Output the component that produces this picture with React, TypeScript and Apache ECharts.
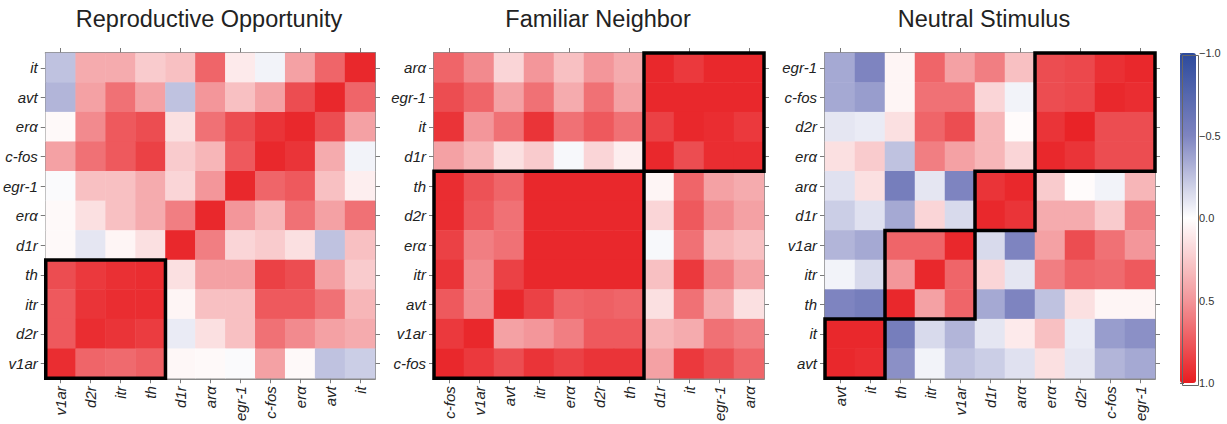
import React, { useEffect, useRef } from "react";
import * as echarts from "echarts";

// ---------- Data ----------
const titles = ["Reproductive Opportunity", "Familiar Neighbor", "Neutral Stimulus"];

const repCols = ["v1ar", "d2r", "itr", "th", "d1r", "arα", "egr-1", "c-fos", "erα", "avt", "it"];
const repRows = ["it", "avt", "erα", "c-fos", "egr-1", "erα", "d1r", "th", "itr", "d2r", "v1ar"];
const repValues = [
  [-0.25, 0.4, 0.4, 0.25, 0.3, 0.7, 0.1, -0.05, 0.45, 0.7, 0.95],
  [-0.3, 0.45, 0.65, 0.45, -0.25, 0.5, 0.3, 0.45, 0.8, 0.95, 0.7],
  [0.03, 0.55, 0.75, 0.8, 0.15, 0.65, 0.8, 0.9, 0.95, 0.8, 0.45],
  [0.45, 0.65, 0.75, 0.85, 0.25, 0.35, 0.75, 0.95, 0.9, 0.4, -0.05],
  [-0.02, 0.3, 0.3, 0.4, 0.2, 0.5, 0.95, 0.7, 0.75, 0.3, 0.08],
  [0.03, 0.15, 0.3, 0.4, 0.6, 0.95, 0.5, 0.35, 0.65, 0.45, 0.65],
  [0.03, -0.1, 0.05, 0.15, 0.95, 0.6, 0.2, 0.25, 0.15, -0.25, 0.3],
  [0.8, 0.88, 0.92, 0.93, 0.15, 0.45, 0.45, 0.85, 0.8, 0.45, 0.25],
  [0.75, 0.9, 0.93, 0.93, 0.05, 0.3, 0.3, 0.75, 0.75, 0.65, 0.35],
  [0.75, 0.93, 0.9, 0.87, -0.08, 0.15, 0.3, 0.65, 0.55, 0.45, 0.4],
  [0.93, 0.7, 0.68, 0.72, 0.04, 0.03, -0.02, 0.45, 0.03, -0.25, -0.2],
];
const repBoxes = [[0, 7, 3, 10]];

const famCols = ["c-fos", "v1ar", "avt", "itr", "erα", "d2r", "th", "d1r", "it", "egr-1", "arα"];
const famRows = ["arα", "egr-1", "it", "d1r", "th", "d2r", "erα", "itr", "avt", "v1ar", "c-fos"];
const famValues = [
  [0.7, 0.55, 0.2, 0.5, 0.3, 0.5, 0.4, 0.95, 0.88, 0.95, 0.95],
  [0.8, 0.7, 0.45, 0.65, 0.4, 0.65, 0.45, 0.95, 0.95, 0.95, 0.95],
  [0.9, 0.5, 0.65, 0.9, 0.65, 0.75, 0.65, 0.85, 0.95, 0.93, 0.88],
  [0.45, 0.35, 0.15, 0.25, -0.03, 0.2, 0.08, 0.95, 0.8, 0.93, 0.93],
  [0.93, 0.78, 0.7, 0.95, 0.95, 0.95, 0.95, 0.05, 0.7, 0.45, 0.4],
  [0.93, 0.75, 0.65, 0.95, 0.95, 0.95, 0.95, 0.2, 0.75, 0.55, 0.45],
  [0.85, 0.6, 0.65, 0.95, 0.95, 0.95, 0.95, -0.03, 0.65, 0.35, 0.3],
  [0.9, 0.55, 0.85, 0.95, 0.95, 0.95, 0.95, 0.3, 0.88, 0.6, 0.45],
  [0.75, 0.55, 0.95, 0.85, 0.7, 0.72, 0.7, 0.15, 0.65, 0.4, 0.15],
  [0.88, 0.95, 0.45, 0.5, 0.6, 0.75, 0.75, 0.35, 0.4, 0.65, 0.6],
  [0.95, 0.88, 0.8, 0.9, 0.85, 0.9, 0.9, 0.45, 0.88, 0.8, 0.7],
];
const famBoxes = [
  [7, 0, 10, 3],
  [0, 4, 6, 10],
];

const neuCols = ["avt", "it", "th", "itr", "v1ar", "d1r", "arα", "erα", "d2r", "c-fos", "egr-1"];
const neuRows = ["egr-1", "c-fos", "d2r", "erα", "arα", "d1r", "v1ar", "itr", "th", "it", "avt"];
const neuValues = [
  [-0.35, -0.5, 0.05, 0.7, 0.45, 0.6, 0.3, 0.8, 0.82, 0.92, 0.95],
  [-0.35, -0.4, 0.05, 0.65, 0.65, 0.2, -0.05, 0.8, 0.82, 0.95, 0.93],
  [-0.1, -0.08, 0.15, 0.7, 0.8, 0.35, 0.02, 0.9, 0.97, 0.8, 0.8],
  [0.15, 0.25, -0.25, 0.6, 0.45, 0.35, 0.2, 0.95, 0.9, 0.8, 0.8],
  [-0.12, 0.15, -0.55, -0.1, -0.5, 0.9, 0.95, 0.25, 0.02, -0.05, 0.35],
  [-0.2, -0.12, -0.35, 0.2, -0.15, 0.95, 0.9, 0.4, 0.4, 0.25, 0.6],
  [-0.3, -0.35, 0.7, 0.7, 0.95, -0.15, -0.5, 0.45, 0.8, 0.65, 0.5],
  [-0.05, -0.15, 0.5, 0.95, 0.7, 0.2, -0.1, 0.6, 0.7, 0.68, 0.75],
  [-0.5, -0.55, 0.95, 0.45, 0.7, -0.35, -0.5, -0.25, 0.15, 0.05, 0.05],
  [0.95, 0.95, -0.55, -0.15, -0.3, -0.1, 0.1, 0.3, -0.08, -0.4, -0.45],
  [0.95, 0.93, -0.45, -0.05, -0.25, -0.2, -0.12, 0.15, -0.1, -0.3, -0.35],
];
const neuBoxes = [
  [7, 0, 10, 3],
  [5, 4, 6, 5],
  [2, 6, 4, 8],
  [0, 9, 1, 10],
];

const scaleMin = -1;
const scaleMax = 1;
const scaleColors = ["#2C4A9C", "#7E84C0", "#FFFFFF", "#F3969A", "#E81C20"];

// ---------- Layout ----------
const FONT = "'Liberation Sans', Arial, Helvetica, sans-serif";
const panels = [
  { cols: repCols, rows: repRows, values: repValues, boxes: repBoxes, left: 45, titleX: 209 },
  { cols: famCols, rows: famRows, values: famValues, boxes: famBoxes, left: 434, titleX: 598 },
  { cols: neuCols, rows: neuRows, values: neuValues, boxes: neuBoxes, left: 825, titleX: 984 },
];
const GRID_TOP = 53;
const GRID_SIZE = 330;

function buildOption() {
  const grid: any[] = [];
  const xAxis: any[] = [];
  const yAxis: any[] = [];
  const series: any[] = [];
  const title: any[] = [];

  const tickStyle = { show: true, alignWithLabel: true, length: 5, lineStyle: { color: "#7a7a7a", width: 1 } };
  const lineStyle = { show: true, lineStyle: { color: "#8a8a8a", width: 2 } };

  panels.forEach((p, i) => {
    grid.push({ left: p.left, top: GRID_TOP, width: GRID_SIZE, height: GRID_SIZE, containLabel: false });
    title.push({
      text: titles[i],
      left: p.titleX,
      top: 7,
      padding: 0,
      textAlign: "center",
      textStyle: { fontSize: 23.5, fontWeight: "normal", color: "#222", fontFamily: FONT },
    });
    // bottom x
    xAxis.push({
      type: "category",
      gridIndex: i,
      data: p.cols,
      position: "bottom",
      axisLine: lineStyle,
      axisTick: tickStyle,
      splitLine: { show: false },
      axisLabel: {
        rotate: 90,
        interval: 0,
        margin: 8,
        fontStyle: "italic",
        fontSize: 15,
        color: "#222",
        fontFamily: FONT,
      },
    });
    // top x (ticks only)
    xAxis.push({
      type: "category",
      gridIndex: i,
      data: p.cols,
      position: "top",
      axisLine: lineStyle,
      axisTick: tickStyle,
      axisLabel: { show: false },
      splitLine: { show: false },
    });
    // left y
    yAxis.push({
      type: "category",
      gridIndex: i,
      data: p.rows,
      inverse: true,
      position: "left",
      axisLine: lineStyle,
      axisTick: tickStyle,
      splitLine: { show: false },
      axisLabel: {
        interval: 0,
        margin: 8,
        fontStyle: "italic",
        fontSize: 15,
        color: "#222",
        fontFamily: FONT,
      },
    });
    // right y (ticks only)
    yAxis.push({
      type: "category",
      gridIndex: i,
      data: p.rows,
      inverse: true,
      position: "right",
      axisLine: lineStyle,
      axisTick: tickStyle,
      axisLabel: { show: false },
      splitLine: { show: false },
    });

    const data: any[] = [];
    p.values.forEach((row, r) => {
      row.forEach((v, c) => data.push([c, r, v]));
    });
    series.push({
      type: "heatmap",
      name: titles[i],
      xAxisIndex: 2 * i,
      yAxisIndex: 2 * i,
      data,
      itemStyle: { borderWidth: 0 },
      emphasis: { disabled: true },
      z: 2,
    });
  });

  // box outlines
  panels.forEach((p, i) => {
    series.push({
      type: "custom",
      xAxisIndex: 2 * i,
      yAxisIndex: 2 * i,
      data: p.boxes,
      encode: { x: [0, 2], y: [1, 3] },
      z: 10,
      silent: true,
      clip: false,
      renderItem: (params: any, api: any) => {
        const a = api.coord([api.value(0), api.value(1)]);
        const b = api.coord([api.value(2), api.value(3)]);
        const s = api.size([1, 1]);
        const x0 = Math.min(a[0], b[0]) - s[0] / 2;
        const x1 = Math.max(a[0], b[0]) + s[0] / 2;
        const y0 = Math.min(a[1], b[1]) - s[1] / 2;
        const y1 = Math.max(a[1], b[1]) + s[1] / 2;
        return {
          type: "rect",
          shape: { x: x0, y: y0, width: x1 - x0, height: y1 - y0 },
          style: { fill: "none", stroke: "#000", lineWidth: 3.5 },
        };
      },
    });
  });

  // colorbar axis
  grid.push({ left: 1180, top: GRID_TOP, width: 16, height: GRID_SIZE });
  xAxis.push({ type: "value", gridIndex: 3, show: false });
  yAxis.push({
    type: "value",
    gridIndex: 3,
    min: scaleMin,
    max: scaleMax,
    interval: 0.5,
    inverse: true,
    position: "right",
    axisLine: { show: false },
    axisTick: { show: true, length: 4, lineStyle: { color: "#666" } },
    splitLine: { show: false },
    axisLabel: {
      margin: 3,
      fontSize: 11,
      color: "#333",
      fontFamily: FONT,
      formatter: (v: number) => (v < 0 ? "\u2212" + Math.abs(v).toFixed(1) : v.toFixed(1)),
    },
  });

  return {
    animation: false,
    backgroundColor: "#ffffff",
    title,
    grid,
    xAxis,
    yAxis,
    series,
    visualMap: {
      type: "continuous",
      min: scaleMin,
      max: scaleMax,
      seriesIndex: [0, 1, 2],
      inverse: true,
      orient: "vertical",
      left: 1180,
      top: GRID_TOP,
      itemWidth: 16,
      itemHeight: GRID_SIZE,
      padding: 0,
      calculable: false,
      hoverLink: false,
      showLabel: false,
      text: null,
      inRange: { color: scaleColors },
    },
    graphic: [
      {
        type: "rect",
        left: 1180,
        top: GRID_TOP,
        z: 100,
        silent: true,
        shape: { width: 16, height: GRID_SIZE },
        style: { fill: "none", stroke: "#666", lineWidth: 1 },
      },
    ],
  };
}

export default function App() {
  const ref = useRef<HTMLDivElement>(null);
  useEffect(() => {
    if (!ref.current) return;
    const chart = echarts.init(ref.current, null, { renderer: "svg" });
    chart.setOption(buildOption() as any);
    return () => chart.dispose();
  }, []);
  return (
    <div
      ref={ref}
      style={{ position: "fixed", left: 0, top: 0, width: 1227, height: 424, background: "#fff" }}
    />
  );
}
